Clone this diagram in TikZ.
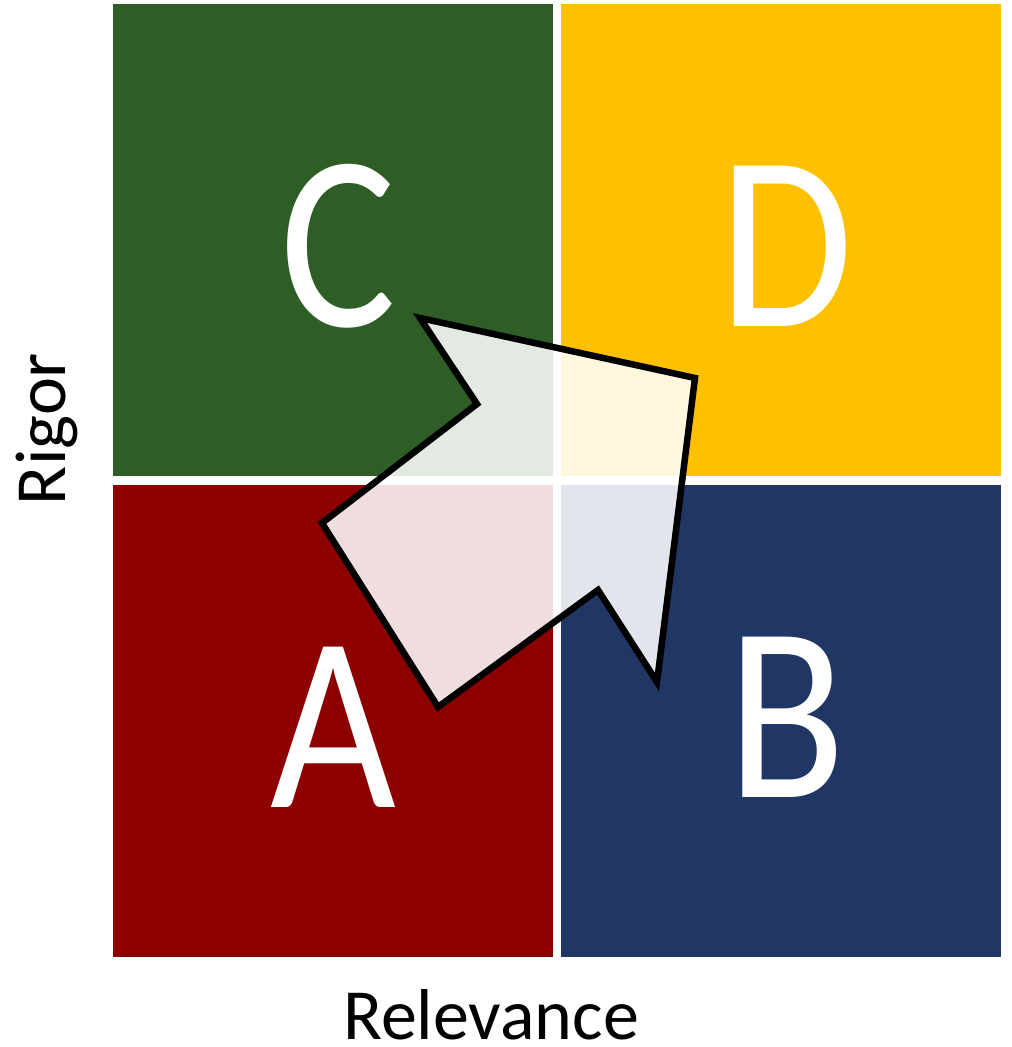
\documentclass[tikz,border=0pt]{standalone}
\usepackage{fontspec}
\setmainfont{Carlito}
\definecolor{quadC}{HTML}{2E5E25}
\definecolor{quadD}{HTML}{FFC000}
\definecolor{quadA}{HTML}{8C0000}
\definecolor{quadB}{HTML}{203765}
\begin{document}
\begin{tikzpicture}[x=1pt,y=-1pt,
  quad/.style={rectangle, inner sep=0pt, outer sep=0pt, draw=none,
    minimum width=440pt, minimum height=472pt},
  letter/.style={text=white, inner sep=0pt, xscale=0.87,
    font=\fontsize{250}{250}\selectfont},
  axislabel/.style={text=black, inner sep=0pt, anchor=base,
    font=\fontsize{72}{72}\selectfont},
  bigarrow/.style={draw=black, line width=6.5pt, line join=miter,
    fill=white, fill opacity=0.87}]
  \useasboundingbox (0,0) rectangle (1012,1047);

  % four quadrants
  \node[quad, fill=quadC] (qC) at (333,240) {};
  \node[quad, fill=quadD] (qD) at (781,240) {};
  \node[quad, fill=quadA] (qA) at (333,721) {};
  \node[quad, fill=quadB] (qB) at (781,721) {};

  % quadrant letters
  \node[letter] (C) at (338,246) {C};
  \node[letter] (D) at (786,246) {D};
  \node[letter] (A) at (333,727) {A};
  \node[letter] (B) at (787,717) {B};

  % axis labels
  \node[axislabel] (relevance) at (491,1039) {Relevance};
  \node[axislabel, rotate=90] (rigor) at (65,429) {Rigor};

  % bent arrow from A towards D
  \coordinate (p1) at (420,318);
  \coordinate (p2) at (695,378);
  \coordinate (p3) at (657,682);
  \coordinate (p4) at (598,590);
  \coordinate (p5) at (438,707);
  \coordinate (p6) at (322,523);
  \coordinate (p7) at (477,404);
  \draw[bigarrow] (p1) -- (p2) -- (p3) -- (p4) -- (p5) -- (p6) -- (p7) -- cycle;
\end{tikzpicture}
\end{document}
